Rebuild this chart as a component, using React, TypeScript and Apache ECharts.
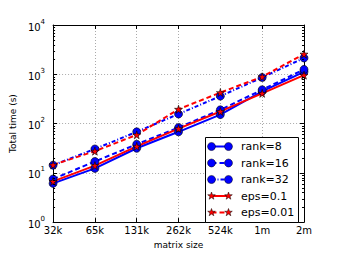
import React, { useEffect, useRef } from "react";
import * as echarts from "echarts";

const categories = ["32k", "65k", "131k", "262k", "524k", "1m", "2m"];
const rank8 = [6.1, 12.3, 31.5, 68, 152, 450, 1120];
const rank16 = [7.5, 17, 38, 83, 190, 485, 1256];
const rank32 = [14.3, 30.5, 68, 156, 360, 860, 2140];
const eps01 = [6.7, 14, 34.5, 79, 176, 410, 960];
const eps001 = [14.5, 27.5, 59, 195, 425, 890, 2570];
const minorTicks = [
  2, 3, 4, 5, 6, 7, 8, 9,
  20, 30, 40, 50, 60, 70, 80, 90,
  200, 300, 400, 500, 600, 700, 800, 900,
  2000, 3000, 4000, 5000, 6000, 7000, 8000, 9000,
];

const BLUE = "#0000ff";
const RED = "#ff0000";
const FONT = "DejaVu Sans";
const STAR = "path://M50,0 L61,35 L98,35 L68,57 L79,91 L50,70 L21,91 L32,57 L2,35 L39,35 Z";

const legendItems = [
  { name: "rank=8", color: BLUE, dash: null as number[] | null, star: false },
  { name: "rank=16", color: BLUE, dash: [5, 3], star: false },
  { name: "rank=32", color: BLUE, dash: [4, 2, 1, 2], star: false },
  { name: "eps=0.1", color: RED, dash: null, star: true },
  { name: "eps=0.01", color: RED, dash: [5, 3], star: true },
];

function starPoints(cx: number, cy: number, r: number) {
  const pts: number[][] = [];
  for (let i = 0; i < 10; i++) {
    const a = -Math.PI / 2 + (i * Math.PI) / 5;
    const rr = i % 2 === 0 ? r : r * 0.4;
    pts.push([cx + rr * Math.cos(a), cy + rr * Math.sin(a)]);
  }
  return pts;
}

export default function App() {
  const ref = useRef<HTMLDivElement>(null);
  useEffect(() => {
    if (!ref.current) return;
    const chart = echarts.init(ref.current, null, { renderer: "svg" });

    const lineSeries = (name: string, data: number[], color: string, dash: any, star: boolean) => ({
      name,
      type: "line",
      data,
      symbol: star ? STAR : "circle",
      symbolSize: star ? 8 : 8,
      showAllSymbol: true,
      lineStyle: { color, width: 2, type: dash || "solid" },
      itemStyle: { color, borderColor: "#000", borderWidth: 0.6 },
      z: 3,
    });

    const legendGraphics: any[] = [
      {
        type: "rect",
        shape: { x: 205.5, y: 137.5, width: 93, height: 85 },
        style: { fill: "#fff", stroke: "#000", lineWidth: 1 },
        z: 100,
      },
    ];
    legendItems.forEach((it, i) => {
      const y = 146.5 + i * 16.5;
      legendGraphics.push({
        type: "line",
        shape: { x1: 211.5, y1: y, x2: 228.5, y2: y },
        style: { stroke: it.color, lineWidth: 2, lineDash: it.dash || undefined },
        z: 101,
      });
      [211.5, 228.5].forEach((x) => {
        if (it.star) {
          legendGraphics.push({
            type: "polygon",
            shape: { points: starPoints(x, y, 4) },
            style: { fill: it.color, stroke: "#000", lineWidth: 0.5 },
            z: 102,
          });
        } else {
          legendGraphics.push({
            type: "circle",
            shape: { cx: x, cy: y, r: 4 },
            style: { fill: it.color, stroke: "#000", lineWidth: 0.5 },
            z: 102,
          });
        }
      });
      legendGraphics.push({
        type: "text",
        x: 241,
        y,
        style: {
          text: it.name,
          fontSize: 11,
          fontFamily: FONT,
          fill: "#000",
          verticalAlign: "middle",
          align: "left",
        },
        z: 102,
      });
    });

    const gridLine = { show: true, lineStyle: { color: "#aaa", type: [1, 2], width: 1 } };

    chart.setOption({
      animation: false,
      textStyle: { fontFamily: FONT },
      grid: { left: 42, right: 34, top: 25, bottom: 26 },
      xAxis: [
        {
          type: "category",
          data: categories,
          boundaryGap: false,
          position: "bottom",
          name: "matrix size",
          nameLocation: "middle",
          nameGap: 17,
          nameTextStyle: { fontSize: 9, color: "#000", fontFamily: FONT },
          axisLine: { show: true, lineStyle: { color: "#000", width: 1 } },
          axisTick: { show: true, inside: true, length: 4, interval: 0, lineStyle: { color: "#000" } },
          axisLabel: { interval: 0, fontSize: 10, color: "#000", margin: 3, fontFamily: FONT },
          splitLine: { ...gridLine, interval: 0 },
        },
        {
          type: "category",
          data: categories,
          boundaryGap: false,
          position: "top",
          axisLine: { show: true, lineStyle: { color: "#000", width: 1 } },
          axisTick: { show: true, inside: true, length: 4, interval: 0, lineStyle: { color: "#000" } },
          axisLabel: { show: false },
          splitLine: { show: false },
        },
      ],
      yAxis: [
        {
          type: "log",
          logBase: 10,
          min: 1,
          max: 10000,
          splitNumber: 4,
          position: "left",
          name: "Total time (s)",
          nameLocation: "middle",
          nameGap: 26,
          nameRotate: 90,
          nameTextStyle: { fontSize: 9, color: "#000", fontFamily: FONT },
          axisLine: { show: true, lineStyle: { color: "#000", width: 1 } },
          axisTick: { show: true, inside: true, length: 4, lineStyle: { color: "#000" } },
          axisLabel: {
            margin: 8,
            color: "#000",
            fontSize: 10,
            formatter: (v: number) => "{b|10}{s|" + Math.round(Math.log10(v)) + "}",
            rich: {
              b: { fontSize: 10, color: "#000", fontFamily: FONT, verticalAlign: "bottom" },
              s: { fontSize: 7, color: "#000", fontFamily: FONT, verticalAlign: "bottom", padding: [0, 0, 7, 0] },
            },
          },
          splitLine: gridLine,
        },
        {
          type: "log",
          logBase: 10,
          min: 1,
          max: 10000,
          splitNumber: 4,
          position: "right",
          axisLine: { show: true, lineStyle: { color: "#000", width: 1 } },
          axisTick: { show: true, inside: true, length: 4, lineStyle: { color: "#000" } },
          axisLabel: { show: false },
          splitLine: { show: false },
        },
      ],
      series: [
        {
          type: "custom",
          silent: true,
          data: minorTicks.map((v) => [0, v]),
          encode: { x: 0, y: 1 },
          clip: false,
          z: 4,
          renderItem: (params: any, api: any) => {
            const y = Math.round(api.coord([0, api.value(1)])[1]) + 0.5;
            const cs = params.coordSys;
            return {
              type: "group",
              children: [
                { type: "line", shape: { x1: cs.x, y1: y, x2: cs.x + 2, y2: y }, style: { stroke: "#000", lineWidth: 1 } },
                {
                  type: "line",
                  shape: { x1: cs.x + cs.width - 2, y1: y, x2: cs.x + cs.width, y2: y },
                  style: { stroke: "#000", lineWidth: 1 },
                },
              ],
            };
          },
        },
        lineSeries("rank=8", rank8, BLUE, null, false),
        lineSeries("rank=16", rank16, BLUE, [5, 3], false),
        lineSeries("rank=32", rank32, BLUE, [4, 2, 1, 2], false),
        lineSeries("eps=0.1", eps01, RED, null, true),
        lineSeries("eps=0.01", eps001, RED, [5, 3], true),
      ],
      graphic: legendGraphics,
    });
    return () => chart.dispose();
  }, []);
  return (
    <div
      ref={ref}
      style={{ position: "absolute", left: 0, top: 0, width: 338, height: 254 }}
    />
  );
}
